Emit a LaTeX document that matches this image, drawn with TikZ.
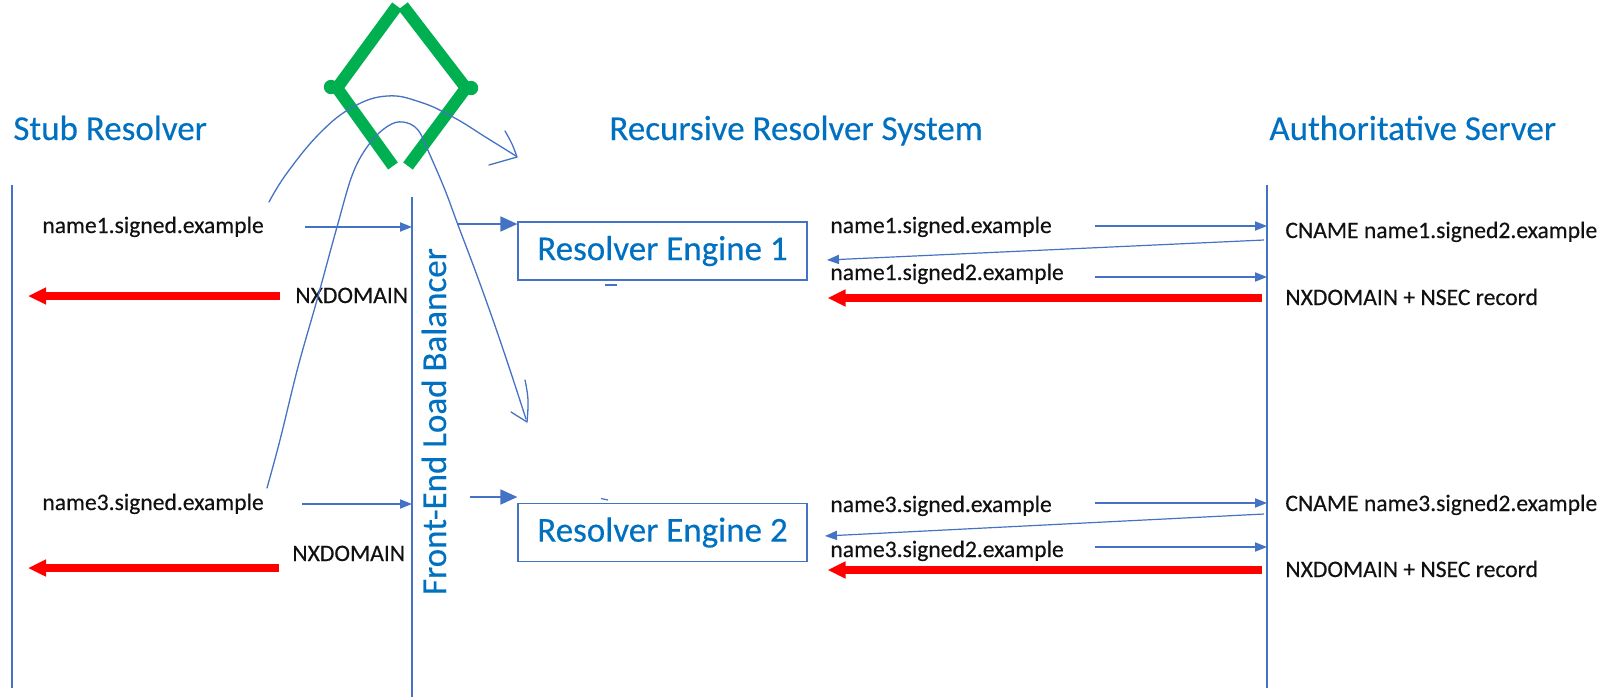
\documentclass[tikz,border=0pt]{standalone}
\usepackage{fontspec}
\setmainfont{Carlito}[FakeBold=0.35]
\usetikzlibrary{arrows.meta}
\definecolor{lblue}{HTML}{4472C4}
\definecolor{tblue}{HTML}{0070C0}
\definecolor{grn}{HTML}{00B050}
\definecolor{rd}{HTML}{FF0000}
\definecolor{txt}{HTML}{111111}
\begin{document}
\begin{tikzpicture}[x=0.5pt,y=-0.5pt,
  title/.style={inner sep=0, anchor=base west, text=tblue, font=\fontsize{17.5}{21}\selectfont},
  lbl/.style={inner sep=0, anchor=base west, text=txt, font=\fontsize{11.8}{14}\selectfont},
  life/.style={draw=lblue, line width=0.55pt},
  msg/.style={draw=lblue, line width=0.6pt, -{Triangle[length=6pt,width=4.6pt]}},
  fwd/.style={draw=lblue, line width=0.8pt, -{Triangle[length=8.5pt,width=7.5pt]}},
  nx/.style={draw=rd, line width=3.6pt, -{Triangle[length=9pt,width=8pt]}},
  eng/.style={draw=lblue, line width=0.6pt, minimum width=144.5pt, minimum height=29pt, inner sep=0, text=tblue, font=\fontsize{17.5}{21}\selectfont},
  sketch/.style={draw=lblue, line width=0.65pt, line cap=round, line join=round},
  greenmark/.style={draw=grn, line width=6pt, line join=miter}
]
\useasboundingbox (0,0) rectangle (1615,697);

% lifelines
\coordinate (st-top) at (12,185); \coordinate (st-bot) at (12,688);
\coordinate (lb-top) at (412,197); \coordinate (lb-bot) at (412,697);
\coordinate (au-top) at (1267,185); \coordinate (au-bot) at (1267,688);
\draw[life] (st-top) -- (st-bot);
\draw[life] (lb-top) -- (lb-bot);
\draw[life] (au-top) -- (au-bot);

% titles
\node[title] (t1) at (13,140) {Stub Resolver};
\node[title] (t2) at (609,140) {Recursive Resolver System};
\node[title] (t3) at (1269,140) {Authoritative Server};
\node[rotate=90, anchor=base, inner sep=0, text=tblue, font=\fontsize{17.5}{21}\selectfont] (lbt) at (446,421.5) {Front-End Load Balancer};

% engines
\node[eng] (e1) at (662.5,251) {Resolver Engine 1};
\node[eng] (e2) at (662.5,532.5) {Resolver Engine 2};
\draw[lblue, line width=0.6pt] (605,285) -- (617,285);
\draw[lblue, line width=0.6pt] (601,498.5) -- (608,500);

% left labels
\node[lbl] (l1) at (42,233) {name1.signed.example};
\node[lbl] (l2) at (295,303) {NXDOMAIN};
\node[lbl] (l3) at (42,510) {name3.signed.example};
\node[lbl] (l4) at (292,561) {NXDOMAIN};

% right labels
\node[lbl] (r1) at (830,233) {name1.signed.example};
\node[lbl] (r2) at (830,280) {name1.signed2.example};
\node[lbl] (a1) at (1285,238) {CNAME name1.signed2.example};
\node[lbl] (a2) at (1285,305) {NXDOMAIN + NSEC record};
\node[lbl] (r3) at (830,512) {name3.signed.example};
\node[lbl] (r4) at (830,557) {name3.signed2.example};
\node[lbl] (a3) at (1285,511) {CNAME name3.signed2.example};
\node[lbl] (a4) at (1285,577) {NXDOMAIN + NSEC record};

% left messages
\coordinate (m1) at (305,227); \draw[msg] (m1) -- (m1 -| lb-top);
\coordinate (m2) at (302,504); \draw[msg] (m2) -- (m2 -| lb-top);
\coordinate (x1) at (280,296); \draw[nx] (x1) -- ([xshift=8pt]x1 -| st-top);
\coordinate (x2) at (279,568); \draw[nx] (x2) -- ([xshift=8pt]x2 -| st-top);

% forward to engines
\coordinate (f1) at (458,224); \draw[fwd] (f1) -- (f1 -| e1.west);
\coordinate (f2) at (470,497); \draw[fwd] (f2) -- (f2 -| e2.west);

% right messages, engine 1
\coordinate (q1) at (1095,226); \draw[msg] (q1) -- (q1 -| au-top);
\coordinate (b1) at (1264,240); \coordinate (b1e) at (827,260); \draw[msg] (b1) -- (b1e);
\coordinate (q2) at (1095,277); \draw[msg] (q2) -- (q2 -| au-top);
\coordinate (y1) at (1262,298); \draw[nx] (y1) -- ([xshift=10pt]y1 -| e1.east);

% right messages, engine 2
\coordinate (q3) at (1095,503); \draw[msg] (q3) -- (q3 -| au-top);
\coordinate (b2) at (1264,514); \coordinate (b2e) at (825,536); \draw[msg] (b2) -- (b2e);
\coordinate (q4) at (1095,547); \draw[msg] (q4) -- (q4 -| au-top);
\coordinate (y2) at (1262,570); \draw[nx] (y2) -- ([xshift=10pt]y2 -| e2.east);

% green mark
\draw[greenmark] (393,166) -- (337,88) -- (397,6);
\draw[greenmark] (403,6) -- (466,88) -- (408,166);
\fill[grn] (331,87) circle (3.6pt);
\fill[grn] (471,88) circle (3.6pt);

% hand-drawn curves
\draw[sketch] plot[smooth, tension=0.7] coordinates {(269,202) (287,173) (320,133) (353,107) (387,96) (420,102) (453,117) (487,138) (516,156)};
\draw[sketch] plot[smooth, tension=0.7] coordinates {(505,131) (512,144) (517,157)} -- (489,165);
\draw[sketch] plot[smooth, tension=0.6] coordinates {(267,488) (280,440) (298,367) (317,300) (337,227) (353,173) (370,143) (388,126) (403,122) (418,130) (430,155) (445,190) (458,225) (475,270) (493,320) (510,370) (526,419)};
\draw[sketch] plot[smooth, tension=0.7] coordinates {(525,380) (528,400) (527,422)} -- (511,412);
\end{tikzpicture}
\end{document}
